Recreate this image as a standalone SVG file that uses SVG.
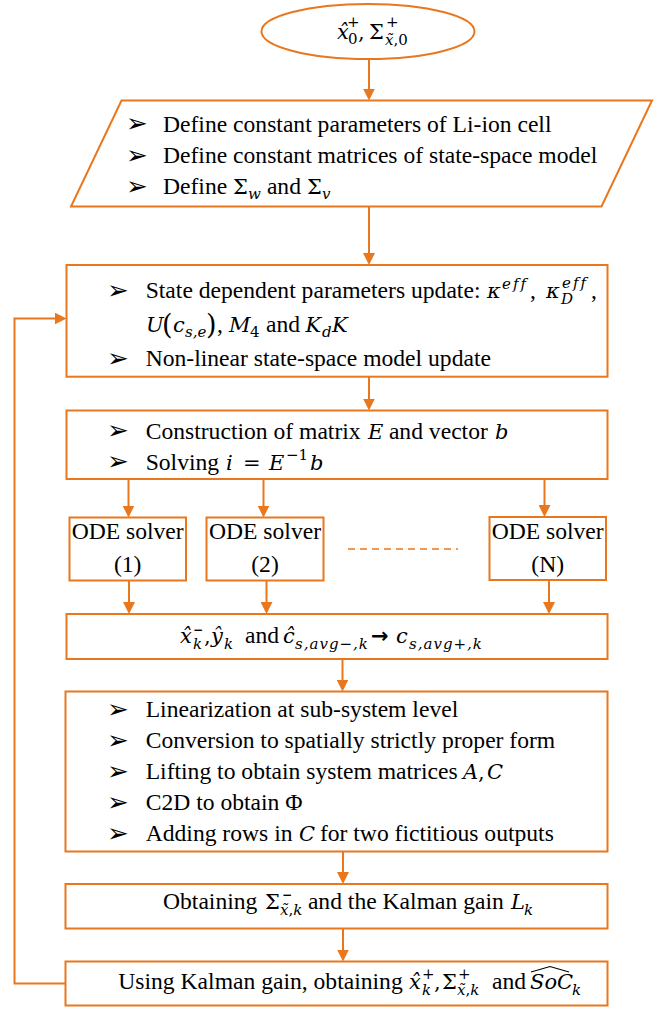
<svg xmlns="http://www.w3.org/2000/svg" width="659" height="1009" viewBox="0 0 659 1009">
<defs>
<marker id="ah" viewBox="0 0 12 12" refX="6" refY="6" markerWidth="12" markerHeight="12" markerUnits="userSpaceOnUse" orient="auto"><path d="M0,0 L12,6 L0,12 z" fill="#E8771E"/></marker>
<style>
.shape{fill:#fff;stroke:#E8771E;stroke-width:2}
.conn{fill:none;stroke:#E8771E;stroke-width:2;marker-end:url(#ah)}
.dash{fill:none;stroke:#E8771E;stroke-width:1.5;stroke-dasharray:7 5}
.t{font-family:"Liberation Serif","Times New Roman",serif;font-size:23.6px;fill:#000}
.m{font-family:"DejaVu Serif",serif;font-style:italic;font-size:21px}
.u{font-family:"DejaVu Serif",serif;font-style:normal;font-size:21px}
.s{font-size:15px}
.bar{font-family:"DejaVu Sans",sans-serif;font-weight:bold;font-size:12px}
.bl{font-family:"DejaVu Sans",sans-serif;font-size:26px;fill:#000}
.hat{fill:none;stroke:#000;stroke-width:1.2}
</style>
</defs>
<rect x="0" y="0" width="659" height="1009" fill="#fff"/>

<g id="connectors">
<path class="conn" d="M369,59 V94.5"/>
<path class="conn" d="M369,206.5 V259"/>
<path class="conn" d="M369,376.7 V404.5"/>
<path class="conn" d="M128.5,479 V511.5"/>
<path class="conn" d="M263.5,479 V511.5"/>
<path class="conn" d="M544.5,479 V511"/>
<path class="conn" d="M129,581 V608"/>
<path class="conn" d="M266.5,581 V608"/>
<path class="conn" d="M549,580 V608"/>
<path class="conn" d="M342.5,659 V685.5"/>
<path class="conn" d="M343,851.5 V878"/>
<path class="conn" d="M343,928.5 V955.5"/>
<path class="conn" d="M65.5,983.5 H14.5 V318.5 H60.5"/>
<path class="dash" d="M348,549 H458"/>
</g>

<g id="start">
<ellipse class="shape" cx="368" cy="31.5" rx="106.5" ry="27.5"/>
<text class="t"><tspan class="m" x="337" y="39">x̂</tspan><tspan class="u s" x="348" y="44">0</tspan><tspan class="u s" x="347" y="27">+</tspan><tspan class="u" x="358" y="39">,</tspan><tspan class="u" x="369" y="39">Σ</tspan><tspan class="u s" x="386" y="27">+</tspan><tspan class="m s" x="385" y="45">x̃</tspan><tspan class="u s" y="45">,0</tspan></text>
</g>

<g id="define">
<polygon class="shape" points="121.5,100.5 652,100.5 601.5,206.5 71,206.5"/>
<text class="bl" x="126" y="132">➢</text>
<text class="bl" x="126" y="163.5">➢</text>
<text class="bl" x="126" y="194.5">➢</text>
<text class="t" x="163" y="131.5">Define constant parameters of Li-ion cell</text>
<text class="t" x="163" y="163">Define constant matrices of state-space model</text>
<text class="t"><tspan x="163" y="194">Define </tspan><tspan class="u" x="233" y="194">Σ</tspan><tspan class="m s" x="248" y="199">w</tspan><tspan x="261" y="194"> and </tspan><tspan class="u" x="307" y="194">Σ</tspan><tspan class="m s" x="322" y="199">v</tspan></text>
</g>

<g id="update">
<rect class="shape" x="66.5" y="265" width="541" height="111.7"/>
<text class="bl" x="107" y="298.5">➢</text>
<text class="bl" x="107" y="366.5">➢</text>
<text class="t"><tspan x="145.7" y="298">State dependent parameters update: </tspan><tspan class="m" x="487" y="298">κ</tspan><tspan class="m s" x="502" y="289" letter-spacing="2">eff</tspan><tspan x="530" y="298">,</tspan><tspan class="m" x="546" y="298">κ</tspan><tspan class="m s" x="562" y="288" letter-spacing="2">eff</tspan><tspan class="m s" x="561" y="304">D</tspan><tspan x="591" y="298">,</tspan></text>
<text class="t"><tspan class="m" x="146" y="332">U</tspan><tspan class="u" x="162" y="334" style="font-size:27px">(</tspan><tspan class="m" x="173" y="332">c</tspan><tspan class="m s" x="185" y="337">s,e</tspan><tspan class="u" x="206" y="334" style="font-size:27px">)</tspan><tspan x="217" y="332">,</tspan><tspan class="m" x="229" y="332">M</tspan><tspan class="u s" x="250" y="337">4</tspan><tspan x="266" y="332">and</tspan><tspan class="m" x="305.5" y="332">K</tspan><tspan class="m s" x="322" y="337">d</tspan><tspan class="m" x="332" y="332">K</tspan></text>
<text class="t" x="145.7" y="366">Non-linear state-space model update</text>
</g>

<g id="construct">
<rect class="shape" x="66.5" y="410.5" width="541" height="68.5"/>
<text class="bl" x="107" y="439">➢</text>
<text class="bl" x="107" y="470">➢</text>
<text class="t"><tspan x="145.7" y="438.5">Construction of matrix </tspan><tspan class="m" x="368" y="438.5">E</tspan><tspan x="383" y="438.5"> and vector </tspan><tspan class="m" x="495" y="438.5">b</tspan></text>
<text class="t"><tspan x="145.7" y="469.5">Solving </tspan><tspan class="m" x="226" y="469.5">i</tspan><tspan class="u" x="243" y="469.5">=</tspan><tspan class="m" x="269" y="469.5">E</tspan><tspan class="u s" x="286" y="460">−1</tspan><tspan class="m" x="310" y="469.5">b</tspan></text>
</g>

<g id="ode1">
<rect class="shape" x="69.5" y="517.5" width="116.5" height="63"/>
<text class="t" text-anchor="middle" x="127.7" y="539">ODE solver</text>
<text class="t" text-anchor="middle" x="127.7" y="571.5">(1)</text>
</g>
<g id="ode2">
<rect class="shape" x="206.5" y="517.5" width="117" height="63"/>
<text class="t" text-anchor="middle" x="265" y="539">ODE solver</text>
<text class="t" text-anchor="middle" x="265" y="571.5">(2)</text>
</g>
<g id="odeN">
<rect class="shape" x="489.5" y="517" width="116.5" height="63"/>
<text class="t" text-anchor="middle" x="547.7" y="539">ODE solver</text>
<text class="t" text-anchor="middle" x="547.7" y="571.5">(N)</text>
</g>

<g id="collect">
<rect class="shape" x="66.5" y="614" width="541" height="45"/>
<text class="t"><tspan class="m" x="180" y="643">x̂</tspan><tspan class="m s" x="193" y="649">k</tspan><tspan class="bar" x="193" y="634">−</tspan><tspan class="u" x="204" y="643">,</tspan><tspan class="m" x="211" y="643">ŷ</tspan><tspan class="m s" x="224" y="649">k</tspan><tspan x="245" y="643">and</tspan><tspan class="m" x="283" y="643">ĉ</tspan><tspan class="m s" x="295" y="649" letter-spacing="1">s,avg−,k</tspan><tspan class="bar" x="371" y="643" style="font-size:21px">→</tspan><tspan class="m" x="396" y="643">c</tspan><tspan class="m s" x="409" y="649" letter-spacing="1">s,avg+,k</tspan></text>
</g>

<g id="linearize">
<rect class="shape" x="65.5" y="691.5" width="542" height="160"/>
<text class="bl" x="107" y="717.5">➢</text>
<text class="bl" x="107" y="748.5">➢</text>
<text class="bl" x="107" y="779.5">➢</text>
<text class="bl" x="107" y="810.5">➢</text>
<text class="bl" x="107" y="841.5">➢</text>
<text class="t" x="145.7" y="717">Linearization at sub-system level</text>
<text class="t" x="145.7" y="748">Conversion to spatially strictly proper form</text>
<text class="t"><tspan x="145.7" y="779">Lifting to obtain system matrices </tspan><tspan class="m" x="463" y="779">A</tspan><tspan class="u" x="478" y="779">,</tspan><tspan class="m" x="487" y="779">C</tspan></text>
<text class="t" x="145.7" y="810">C2D to obtain Φ</text>
<text class="t"><tspan x="145.7" y="841">Adding rows in </tspan><tspan class="m" x="299" y="841">C</tspan><tspan x="314" y="841"> for two fictitious outputs</tspan></text>
</g>

<g id="gain">
<rect class="shape" x="65.5" y="884" width="542" height="44.5"/>
<text class="t"><tspan x="163" y="909">Obtaining </tspan><tspan class="u" x="265" y="909">Σ</tspan><tspan class="bar" x="282" y="899">−</tspan><tspan class="m s" x="280" y="915">x̃</tspan><tspan class="u s" y="915">,</tspan><tspan class="m s" y="915">k</tspan><tspan x="302" y="909"> and the Kalman gain </tspan><tspan class="m" x="511" y="909">L</tspan><tspan class="m s" x="524" y="915">k</tspan></text>
</g>

<g id="final">
<rect class="shape" x="65.5" y="961.5" width="542" height="44"/>
<text class="t"><tspan x="118.3" y="989">Using Kalman gain, obtaining </tspan><tspan class="m" x="409" y="989">x̂</tspan><tspan class="m s" x="422" y="995">k</tspan><tspan class="u s" x="422" y="979">+</tspan><tspan class="u" x="434" y="989">,</tspan><tspan class="u" x="442" y="989">Σ</tspan><tspan class="u s" x="458" y="979">+</tspan><tspan class="m s" x="457" y="995">x̃</tspan><tspan class="u s" y="995">,</tspan><tspan class="m s" y="995">k</tspan><tspan x="492" y="989">and</tspan><tspan class="m" x="530" y="989">SoC</tspan><tspan class="m s" x="572" y="995">k</tspan></text>
<polyline class="hat" points="531,972 550,966.5 569,972"/>
</g>
</svg>
